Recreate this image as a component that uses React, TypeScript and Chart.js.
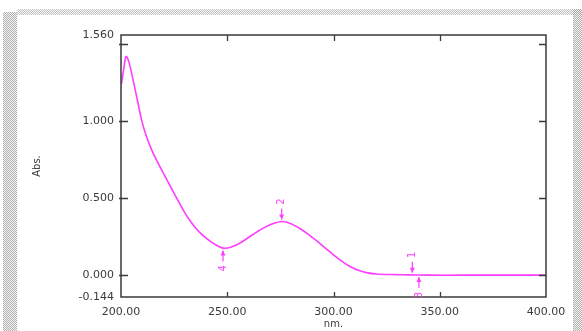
import React, { useEffect, useRef } from "react";
import { Chart, registerables } from "chart.js";

Chart.register(...registerables);

// Wavelength (nm) and absorbance values
const wavelengths = [
  200.2, 201.3, 202.4, 203.6, 205.5, 207.5, 210, 212.5, 215, 217.5, 220, 222.5, 225, 227.5,
  230, 232.5, 235, 237.5, 240, 244, 248, 252, 256, 260, 264, 268, 272, 276, 280, 284, 288,
  292, 296, 300, 304, 308, 312, 316, 320, 327, 335, 345, 360, 380, 400,
];
const absorbance = [
  1.24, 1.34, 1.42, 1.39, 1.28, 1.15, 0.99, 0.88, 0.795, 0.725, 0.66, 0.595, 0.53, 0.466,
  0.405, 0.352, 0.307, 0.27, 0.24, 0.2, 0.174, 0.181, 0.207, 0.243, 0.28, 0.312, 0.335,
  0.347, 0.333, 0.303, 0.265, 0.222, 0.176, 0.13, 0.088, 0.053, 0.028, 0.013, 0.006, 0.002,
  0.0, -0.002, -0.002, -0.002, -0.002,
];

const xTicks = [200, 250, 300, 350, 400];
const yTicks = [-0.144, 0, 0.5, 1.0, 1.56];
const xMarks = [250, 300, 350];
const yMarks = [0, 0.5, 1.0, 1.5];

// Peak / valley markers
const markerNm = [337.1, 275.6, 340.2, 248];
const markerAbs = [0.0, 0.347, -0.001, 0.172];
const markerLabels = ["1", "2", "3", "4"];
const markerAbove = [true, true, false, false];

const LINE_COLOR = "#ff3cff";
const AXIS_COLOR = "#3a3a3a";
const TEXT_COLOR = "#3a3a3a";
const FONT_FAMILY = "'DejaVu Sans', 'Liberation Sans', Arial, sans-serif";

const framePlugin = {
  id: "framePlugin",
  afterDraw(chart: any) {
    const { ctx, chartArea, scales } = chart;
    const { left, right, top, bottom } = chartArea;
    const xs = scales.x;
    const ys = scales.y;
    ctx.save();
    ctx.strokeStyle = AXIS_COLOR;
    ctx.lineWidth = 1.5;
    ctx.strokeRect(left, top, right - left, bottom - top);
    ctx.lineWidth = 1.3;
    ctx.beginPath();
    xMarks.forEach((v) => {
      const px = Math.round(xs.getPixelForValue(v)) + 0.5;
      ctx.moveTo(px, bottom);
      ctx.lineTo(px, bottom - 5);
      ctx.moveTo(px, top);
      ctx.lineTo(px, top + 6);
    });
    yMarks.forEach((v) => {
      const py = Math.round(ys.getPixelForValue(v)) + 0.5;
      ctx.moveTo(left - 2, py);
      ctx.lineTo(left + 7, py);
      ctx.moveTo(right, py);
      ctx.lineTo(right - 7, py);
    });
    ctx.stroke();

    // axis titles
    ctx.fillStyle = TEXT_COLOR;
    ctx.font = `10px ${FONT_FAMILY}`;
    ctx.textAlign = "center";
    ctx.textBaseline = "middle";
    ctx.fillText("nm.", (left + right) / 2, 324);
    ctx.save();
    ctx.translate(37, (top + bottom) / 2);
    ctx.rotate(-Math.PI / 2);
    ctx.fillText("Abs.", 0, 0);
    ctx.restore();

    // peak markers
    ctx.strokeStyle = LINE_COLOR;
    ctx.fillStyle = LINE_COLOR;
    ctx.lineWidth = 1.2;
    markerNm.forEach((nm, i) => {
      const px = xs.getPixelForValue(nm);
      const py = ys.getPixelForValue(markerAbs[i]);
      const dir = markerAbove[i] ? -1 : 1;
      const tip = py + dir * 2;
      const tail = tip + dir * 11;
      ctx.beginPath();
      ctx.moveTo(px, tip);
      ctx.lineTo(px, tail);
      ctx.stroke();
      ctx.beginPath();
      ctx.moveTo(px, tip);
      ctx.lineTo(px - 2.5, tip + dir * 5);
      ctx.lineTo(px + 2.5, tip + dir * 5);
      ctx.closePath();
      ctx.fill();
      ctx.save();
      ctx.translate(px, tail + dir * 7);
      ctx.rotate(-Math.PI / 2);
      ctx.font = `10px ${FONT_FAMILY}`;
      ctx.textAlign = "center";
      ctx.textBaseline = "middle";
      ctx.fillText(markerLabels[i], 0, 0);
      ctx.restore();
    });
    ctx.restore();
  },
};

export default function App() {
  const canvasRef = useRef<HTMLCanvasElement | null>(null);

  useEffect(() => {
    if (!canvasRef.current) return;
    const chart = new Chart(canvasRef.current, {
      type: "line",
      data: {
        datasets: [
          {
            data: wavelengths.map((x, i) => ({ x, y: absorbance[i] })),
            borderColor: LINE_COLOR,
            borderWidth: 1.6,
            pointRadius: 0,
            tension: 0.35,
            fill: false,
          },
        ],
      },
      options: {
        animation: false,
        responsive: false,
        devicePixelRatio: 1,
        layout: { padding: { left: 0, top: 35, right: 36, bottom: 0 } },
        plugins: {
          legend: { display: false },
          tooltip: { enabled: false },
        },
        scales: {
          x: {
            type: "linear",
            min: 200,
            max: 400,
            afterBuildTicks: (s: any) => {
              s.ticks = xTicks.map((v) => ({ value: v }));
            },
            afterFit: (s: any) => {
              s.height = 34;
            },
            grid: { display: false, drawTicks: false },
            border: { display: false },
            ticks: {
              autoSkip: false,
              maxRotation: 0,
              padding: 9,
              color: TEXT_COLOR,
              font: { family: FONT_FAMILY, size: 11 },
              callback: (v: any) => Number(v).toFixed(2),
            },
          },
          y: {
            type: "linear",
            min: -0.144,
            max: 1.56,
            afterBuildTicks: (s: any) => {
              s.ticks = yTicks.map((v) => ({ value: v }));
            },
            afterFit: (s: any) => {
              s.width = 121;
            },
            grid: { display: false, drawTicks: false },
            border: { display: false },
            ticks: {
              autoSkip: false,
              padding: 7,
              color: TEXT_COLOR,
              font: { family: FONT_FAMILY, size: 11 },
              callback: (v: any) => Number(v).toFixed(3),
            },
          },
        },
      },
      plugins: [framePlugin],
    } as any);
    return () => chart.destroy();
  }, []);

  const checker = "repeating-conic-gradient(#9a9a9a 0 25%, #f4f4f4 0 50%) 0 0 / 2px 2px";

  return (
    <div style={{ position: "fixed", left: 0, top: 0, width: 582, height: 331, background: "#fff", overflow: "hidden" }}>
      <div style={{ position: "absolute", left: 3, top: 12, width: 14, height: 319, background: checker, opacity: 0.8 }} />
      <div style={{ position: "absolute", left: 17, top: 9, width: 565, height: 6, background: checker, opacity: 0.6 }} />
      <div style={{ position: "absolute", left: 573, top: 9, width: 9, height: 322, background: checker, opacity: 0.8 }} />
      <canvas ref={canvasRef} width={582} height={331} style={{ position: "absolute", left: 0, top: 0, width: 582, height: 331 }} />
    </div>
  );
}
